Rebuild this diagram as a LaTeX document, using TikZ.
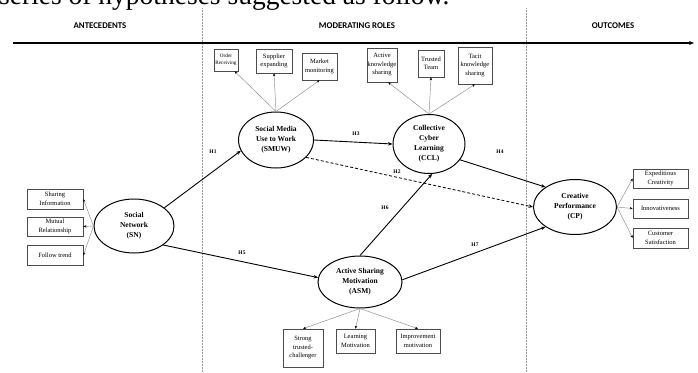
\documentclass[tikz,border=0pt]{standalone}
\usepackage{fontspec}
\setmainfont{Liberation Serif}
\newfontfamily\headfont{Carlito}
\usetikzlibrary{shapes.geometric,arrows.meta,calc}
\tikzset{
  construct/.style={ellipse, draw=black, line width=1pt, inner sep=0pt, align=center,
    font=\fontsize{7.5}{10}\selectfont\bfseries},
  indbox/.style={rectangle, draw=black!70, line width=0.6pt, inner sep=0pt, align=center,
    font=\fontsize{6.5}{8.5}\selectfont},
  indarrow/.style={draw=black!45, line width=0.45pt, -{Stealth[length=3pt,width=2.4pt,color=black]}},
  patharrow/.style={draw=black, line width=0.9pt, -{Stealth[length=4.5pt,width=3.5pt]}},
  hlabel/.style={font=\fontsize{5.5}{6}\selectfont\bfseries, inner sep=0pt},
  heading/.style={font=\headfont\bfseries\fontsize{8.8}{10}\selectfont, inner sep=0pt},
  divider/.style={draw=black!40, densely dotted, line width=0.5pt}
}
\begin{document}
\begin{tikzpicture}[x=1pt,y=-1pt]
\useasboundingbox (0,0) rectangle (698,372);
\fill[white] (0,0) rectangle (698,372);
\clip (0,0) rectangle (698,372);

% clipped page text at top
\node[anchor=base west, inner sep=0pt, font=\fontsize{27.5}{30}\selectfont] (toptext) at (-1,5) {series of hypotheses suggested as follow.};

% dividers
\coordinate (d1t) at (202,8); \coordinate (d1b) at (202,372);
\coordinate (d2t) at (526,8); \coordinate (d2b) at (526,372);
\draw[divider] (d1t) -- (d1b);
\draw[divider] (d2t) -- (d2b);

% headings
\node[heading] (hA) at (100,26) {ANTECEDENTS};
\node[heading] (hM) at (357,26) {MODERATING ROLES};
\node[heading] (hO) at (613,26) {OUTCOMES};

% timeline
\coordinate (tl0) at (13,43); \coordinate (tl1) at (694,43);
\draw[line width=1.2pt, -{Stealth[length=5pt,width=4pt]}] (tl0) -- (tl1);

% constructs
\node[construct, minimum width=80pt, minimum height=54pt] (sn) at (134,226) {Social\\Network\\(SN)};
\node[construct, minimum width=75pt, minimum height=56pt] (smuw) at (276,140) {Social Media\\Use to Work\\(SMUW)};
\node[construct, minimum width=72pt, minimum height=59pt] (ccl) at (429,144) {Collective\\Cyber\\Learning\\(CCL)};
\node[construct, minimum width=84pt, minimum height=52pt] (asm) at (360,282) {Active Sharing\\Motivation\\(ASM)};
\node[construct, minimum width=83pt, minimum height=55pt] (cp) at (575,207) {Creative\\Performance\\(CP)};

% SMUW indicators
\node[indbox, minimum width=24pt, minimum height=22pt, font=\fontsize{5.2}{7.5}\selectfont] (or) at (226,60) {Order\\Receiving};
\node[indbox, minimum width=36pt, minimum height=24pt] (se) at (274,61) {Supplier\\expanding};
\node[indbox, minimum width=35pt, minimum height=27pt] (mm) at (319.5,66.5) {Market\\monitoring};
% CCL indicators
\node[indbox, minimum width=30pt, minimum height=34pt] (aks) at (382,65) {Active\\knowledge\\sharing};
\node[indbox, minimum width=26pt, minimum height=27pt] (tt) at (431,63.5) {Trusted\\Team};
\node[indbox, minimum width=34pt, minimum height=37pt] (tks) at (475,65.5) {Tacit\\knowledge\\sharing};
% SN indicators
\node[indbox, minimum width=56pt, minimum height=20pt] (si) at (55,199) {Sharing\\Information};
\node[indbox, minimum width=56pt, minimum height=19pt] (mr) at (55,226.5) {Mutual\\Relationship};
\node[indbox, minimum width=56pt, minimum height=20pt] (ft) at (55,255.5) {Follow trend};
% CP indicators
\node[indbox, minimum width=55pt, minimum height=19pt] (ec) at (660.5,178.5) {Expeditious\\Creativity};
\node[indbox, minimum width=55pt, minimum height=19pt] (inv) at (660.5,208.5) {Innovativeness};
\node[indbox, minimum width=55pt, minimum height=20pt] (cs) at (660.5,238) {Customer\\Satisfaction};
% ASM indicators
\node[indbox, minimum width=40pt, minimum height=38pt] (stc) at (303,348) {Strong\\trusted-\\challenger};
\node[indbox, minimum width=39pt, minimum height=24pt] (lm) at (355.5,341) {Learning\\Motivation};
\node[indbox, minimum width=44pt, minimum height=24pt] (im) at (418,341) {Improvement\\motivation};

% indicator arrows
\draw[indarrow] (smuw.north) -- ($(or.south)!0.7!(or.south east)$);
\draw[indarrow] (smuw.north) -- (se.south);
\draw[indarrow] (smuw.north) -- (mm.south);
\draw[indarrow] (ccl.north) -- ($(aks.south)!0.4!(aks.south east)$);
\draw[indarrow] (ccl.north) -- (tt.south);
\draw[indarrow] (ccl.north) -- (tks.south);
\draw[indarrow] (sn.west) -- (si.east);
\draw[indarrow] (sn.west) -- (mr.east);
\draw[indarrow] (sn.west) -- (ft.east);
\draw[indarrow] (cp.east) -- (ec.west);
\draw[indarrow] (cp.east) -- (inv.west);
\draw[indarrow] (cp.east) -- (cs.west);
\draw[indarrow] (asm.south) -- (stc.north);
\draw[indarrow] (asm.south) -- (lm.north);
\draw[indarrow] (asm.south) -- (im.north);

% hypothesis paths
\draw[patharrow] (sn.31) -- (smuw.197);
\draw[patharrow] (smuw.east) -- (ccl.west);
\draw[patharrow] (ccl.-27) -- (cp.146);
\draw[patharrow, dashed, dash pattern=on 3pt off 2pt, line width=0.8pt] (smuw.-30) -- (cp.west);
\draw[patharrow] (asm.north) -- (ccl.-84);
\draw[patharrow] (sn.-33) -- (asm.174);
\draw[patharrow] (asm.3) -- (cp.-146);

% labels
\node[hlabel] (l1) at (213,152) {H1};
\node[hlabel] (l2) at (397,172) {H2};
\node[hlabel] (l3) at (356,134) {H3};
\node[hlabel] (l4) at (500,152) {H4};
\node[hlabel] (l5) at (242,253) {H5};
\node[hlabel] (l6) at (385,208) {H6};
\node[hlabel] (l7) at (475,245) {H7};
\end{tikzpicture}
\end{document}
